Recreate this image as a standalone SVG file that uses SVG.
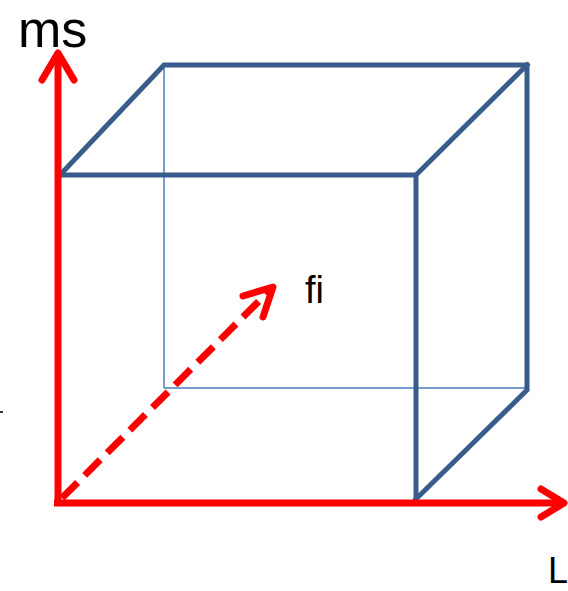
<svg xmlns="http://www.w3.org/2000/svg" width="568" height="591" viewBox="0 0 568 591">
<style>
.edge{fill:none;stroke:#385D8A;stroke-width:5;stroke-linejoin:miter;stroke-linecap:square}
.hidden{fill:none;stroke:#4A7EBB;stroke-width:1.5}
.axis{fill:none;stroke:#FF0000;stroke-width:7}
.head{fill:none;stroke:#FF0000;stroke-width:7;stroke-linecap:round;stroke-linejoin:round}
.lbl{font-family:"Liberation Sans",Arial,sans-serif;fill:#000}
</style>
<rect width="568" height="591" fill="#fff"/>
<g id="cube">
<line class="hidden" x1="164" y1="65" x2="164" y2="388"/>
<line class="hidden" x1="164" y1="388" x2="527" y2="388"/>
<polyline class="edge" points="60,175 164,65 527,65 527,390 416,499"/>
<polyline class="edge" points="60,175 416,175 416,499"/>
<line class="edge" x1="416" y1="175" x2="527" y2="65"/>
</g>
<g id="connectors">
<line class="axis" x1="58" y1="506" x2="58" y2="56"/>
<polyline class="head" points="42,80 58,53 74,80"/>
<line class="axis" x1="54" y1="503" x2="562" y2="503"/>
<polyline class="head" points="541,489 564,503 541,517"/>
<line class="axis" x1="62" y1="498" x2="270" y2="290" stroke-dasharray="22,10"/>
<polyline class="head" points="243,296 273,287 263,317"/>
</g>
<g id="labels">
<text class="lbl" x="18" y="47" font-size="52">ms</text>
<text class="lbl" x="305" y="303" font-size="38">fi</text>
<text class="lbl" x="548" y="583" font-size="36">L</text>
<rect x="0" y="411" width="3" height="2" fill="#333"/>
</g>
</svg>
